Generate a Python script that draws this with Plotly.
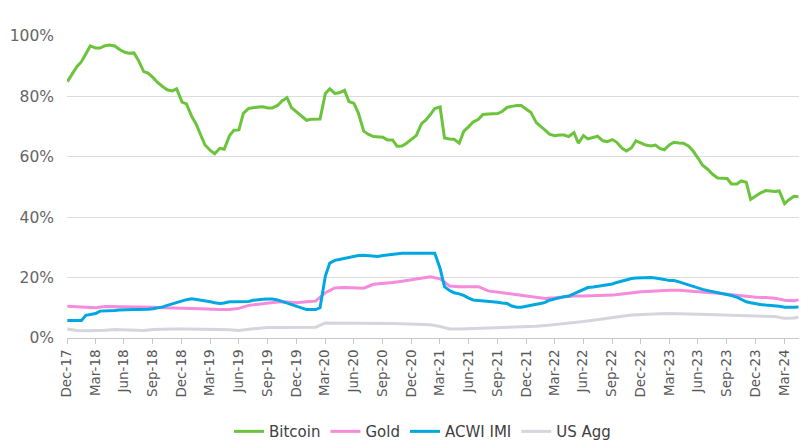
import pandas as pd
import plotly.graph_objects as go

# semi-monthly dates (1st and 15th) Jan-2018 .. May-2024
dates_semi = pd.date_range("2018-01-01", "2024-05-15", freq="SMS").strftime("%Y-%m-%d").tolist()
# monthly dates plus final mid-May point
dates_month = pd.date_range("2018-01-01", "2024-05-01", freq="MS").strftime("%Y-%m-%d").tolist() + ["2024-05-15"]

bitcoin = [
    84.9, 87.3, 89.9, 91.5, 94.2, 96.7, 96.0, 96.0, 96.8, 97.0, 96.7, 95.6,
    94.7, 94.3, 94.4, 92.0, 88.2, 87.7, 86.2, 84.6, 83.2, 82.2, 81.8, 82.5,
    78.1, 77.5, 73.3, 70.8, 67.3, 63.9, 62.1, 61.0, 62.8, 62.5, 67.0, 68.8,
    68.9, 74.4, 76.0, 76.3, 76.5, 76.6, 76.2, 76.2, 77.0, 78.5, 79.6, 76.3,
    74.8, 73.3, 72.1, 72.4, 72.4, 72.5, 81.0, 82.5, 81.0, 81.2, 82.0, 78.3,
    77.7, 74.5, 68.5, 67.5, 66.7, 66.7, 66.5, 65.6, 65.6, 63.5, 63.6, 64.5,
    65.8, 67.0, 71.0, 72.2, 74.0, 76.0, 76.5, 66.2, 65.9, 65.8, 64.5, 68.4,
    70.0, 71.5, 72.4, 74.0, 74.2, 74.2, 74.3, 75.0, 76.4, 76.7, 77.0, 77.0,
    75.8, 74.7, 71.3, 70.2, 68.8, 67.5, 67.0, 67.2, 67.2, 66.7, 68.0, 64.5,
    67.0, 65.9, 66.4, 66.8, 65.3, 65.0, 65.7, 64.8, 62.8, 61.9, 63.0, 65.3,
    64.5, 63.9, 63.6, 63.9, 62.8, 62.3, 64.0, 64.8, 64.6, 64.5, 63.5, 61.9,
    59.5, 57.2, 55.8, 54.3, 53.0, 53.0, 52.8, 51.0, 51.0, 52.0, 51.6, 45.9,
    47.2, 48.0, 48.8, 48.6, 48.5, 48.7, 44.5, 45.8, 46.9, 46.8,
]

acwi = [
    5.8, 5.8, 5.8, 5.8, 7.5, 7.8, 8.1, 8.9, 8.9, 8.9, 9.1, 9.3,
    9.4, 9.4, 9.4, 9.4, 9.4, 9.5, 9.7, 9.9, 10.3, 10.8, 11.3, 11.8,
    12.3, 12.7, 13.0, 12.8, 12.4, 12.2, 12.0, 11.7, 11.4, 11.6, 12.0, 12.0,
    12.0, 12.0, 12.1, 12.5, 12.8, 12.8, 12.9, 12.9, 12.6, 12.1, 11.5, 11.0,
    10.4, 10.0, 9.4, 9.4, 9.4, 10.0, 20.5, 24.8, 25.7, 26.0, 26.4, 26.8,
    27.2, 27.3, 27.4, 27.3, 27.1, 27.0, 27.3, 27.5, 27.8, 28.0, 28.1, 28.1,
    28.1, 28.1, 28.1, 28.1, 28.1, 28.1, 23.0, 17.0, 15.7, 15.0, 14.6, 14.1,
    13.2, 12.6, 12.4, 12.3, 12.2, 12.1, 11.8, 11.6, 11.4, 10.6, 10.2, 10.2,
    10.6, 11.0, 11.2, 11.4, 11.8, 12.5, 13.0, 13.3, 13.7, 13.9, 14.7, 15.5,
    16.3, 16.7, 16.9, 17.1, 17.3, 17.5, 17.9, 18.4, 18.9, 19.3, 19.7, 19.9,
    20.0, 20.0, 20.0, 19.9, 19.7, 19.4, 19.0, 19.0, 18.6, 18.1, 17.6, 17.1,
    16.5, 16.1, 15.7, 15.4, 15.1, 14.9, 14.5, 14.1, 13.5, 12.9, 12.0, 11.7,
    11.3, 11.1, 10.9, 10.8, 10.7, 10.5, 10.2, 10.1, 10.2, 10.3,
]

gold = [
    10.5, 10.3, 10.1, 10.0, 10.4, 10.4, 10.2, 10.2, 10.2, 10.2, 10.0, 10.0,
    9.9, 9.8, 9.7, 9.5, 9.4, 9.4, 9.8, 10.8, 11.2, 11.4, 11.9, 11.9,
    11.7, 12.0, 12.2, 15.0, 16.6, 16.7, 16.6, 16.5, 17.8, 18.0, 18.4, 18.8,
    19.3, 19.8, 20.3, 19.6, 17.2, 17.0, 17.0, 17.0, 15.6, 15.2, 14.8, 14.5,
    14.1, 13.6, 13.1, 13.3, 13.6, 13.9, 13.9, 14.0, 14.0, 14.2, 14.6, 15.0,
    15.3, 15.5, 15.7, 15.8, 15.8, 15.6, 15.3, 15.1, 14.8, 14.5, 14.2, 13.7,
    13.5, 13.4, 13.2, 12.5, 12.3, 12.7,
]

us_agg = [
    3.0, 2.5, 2.4, 2.4, 2.6, 2.8, 2.7, 2.6, 2.5, 2.8, 3.0, 3.0,
    3.0, 3.0, 2.9, 2.9, 2.8, 2.7, 2.5, 2.9, 3.3, 3.5, 3.5, 3.5,
    3.4, 3.4, 3.6, 5.0, 5.0, 5.0, 5.0, 5.0, 4.9, 4.8, 4.8, 4.7,
    4.6, 4.5, 4.4, 3.8, 3.0, 3.0, 3.1, 3.2, 3.3, 3.3, 3.5, 3.7,
    3.8, 3.9, 4.1, 4.4, 4.8, 5.1, 5.5, 5.9, 6.4, 6.8, 7.2, 7.6,
    7.8, 7.9, 8.0, 8.1, 8.1, 8.0, 7.9, 7.8, 7.7, 7.6, 7.4, 7.3,
    7.3, 7.2, 7.1, 6.5, 6.6, 6.9,
]

tick_dates = pd.date_range("2017-12-31", "2024-03-31", freq="QE").strftime("%Y-%m-%d").tolist()
tick_labels = [pd.Timestamp(d).strftime("%b-%y") for d in tick_dates]
y_ticks = [0, 20, 40, 60, 80, 100]

series = [
    ("Bitcoin", dates_semi, bitcoin, "#6cc33c"),
    ("Gold", dates_month, gold, "#f58bdb"),
    ("ACWI IMI", dates_semi, acwi, "#00a8e1"),
    ("US Agg", dates_month, us_agg, "#d6d5de"),
]

fig = go.Figure()
# draw order: US Agg, Gold, ACWI, Bitcoin (legend order kept via legendrank)
order = [3, 1, 2, 0]
for i in order:
    name, xs, ys, col = series[i]
    fig.add_trace(go.Scatter(
        x=xs, y=ys, name=name, mode="lines",
        line=dict(color=col, width=3),
        legendrank=i + 1,
    ))

font_family = "DejaVu Sans"
fig.update_layout(
    width=799, height=439,
    margin=dict(l=59, r=7, t=28, b=109, autoexpand=False),
    paper_bgcolor="white", plot_bgcolor="white",
    font=dict(family=font_family, color="#595959"),
    showlegend=True,
    legend=dict(orientation="h", x=0.485, xanchor="center", y=-0.31, yanchor="middle",
                font=dict(size=15, color="#404040"), traceorder="normal",
                itemwidth=30, tracegroupgap=0),
    xaxis=dict(
        type="date", range=["2017-12-31", "2024-05-20"],
        tickmode="array", tickvals=tick_dates, ticktext=tick_labels,
        tickangle=-90, tickfont=dict(size=13.5, color="#595959"),
        showgrid=False, showline=True, linecolor="#c8c8c8", linewidth=1,
        ticks="outside", ticklen=5, tickcolor="#c8c8c8",
        zeroline=False, automargin=False,
    ),
    yaxis=dict(
        range=[0, 100], tickmode="array", tickvals=y_ticks,
        ticktext=[f"{v}%" for v in y_ticks],
        tickfont=dict(size=15.5, color="#666666"),
        showgrid=True, gridcolor="#dcdcdc", gridwidth=1,
        zeroline=False, showline=False, ticks="", ticklabelstandoff=12,
        automargin=False,
    ),
)

fig.write_html("out.html")
